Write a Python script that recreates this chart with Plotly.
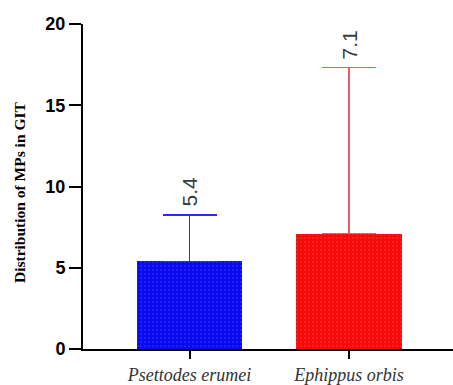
import plotly.graph_objects as go

categories = ["Psettodes erumei", "Ephippus orbis"]
means = [5.4, 7.1]
errors_up = [2.85, 10.2]
bar_colors = ["#0a0af2", "#f70a0a"]
err_colors = ["#2a2aff", "#f05a5a"]
value_labels = ["5.4", "7.1"]
y_ticks = [0, 5, 10, 15, 20]

fig = go.Figure()
for i, cat in enumerate(categories):
    fig.add_trace(go.Bar(
        x=[i], y=[means[i]], width=0.66,
        marker=dict(color=bar_colors[i], line=dict(width=0),
                    pattern=dict(shape=".", fgcolor="rgba(255,255,255,0.35)", size=4, solidity=0.15)),
        error_y=dict(type="data", symmetric=False, array=[errors_up[i]], arrayminus=[0],
                     color=err_colors[i], thickness=1.2, width=27),
        showlegend=False,
    ))
    fig.add_annotation(x=i, y=means[i] + errors_up[i], text=value_labels[i], textangle=-90,
                       showarrow=False, xanchor="center", yanchor="bottom", yshift=6,
                       font=dict(family="Liberation Sans", size=21, color="#34403c"))

fig.add_annotation(xref="paper", yref="paper", x=-0.173, y=0.483, text="Distribution of MPs in GIT",
                   textangle=-90, showarrow=False, xanchor="center", yanchor="middle",
                   font=dict(family="Liberation Serif", size=15.5, color="black", weight="bold"))

fig.update_layout(
    width=453, height=385,
    margin=dict(l=83, r=0, t=24, b=36),
    plot_bgcolor="white", paper_bgcolor="white",
    bargap=0,
    xaxis=dict(range=[-0.668, 1.652], tickvals=[0, 1], automargin=False,
               ticktext=["<i>" + c + "</i>" for c in categories],
               showline=True, linecolor="black", linewidth=2,
               ticks="outside", ticklen=8, tickwidth=2, tickcolor="black",
               tickfont=dict(family="Liberation Serif", size=18, color="#333"),
               showgrid=False, zeroline=False),
    yaxis=dict(range=[0, 20], tickvals=y_ticks, automargin=False,
               showline=True, linecolor="black", linewidth=2,
               ticks="outside", ticklen=12, tickwidth=2, tickcolor="black",
               tickfont=dict(family="Liberation Sans", size=18, color="black", weight="bold"),
               showgrid=False, zeroline=False),
)

fig.write_html("out.html")
